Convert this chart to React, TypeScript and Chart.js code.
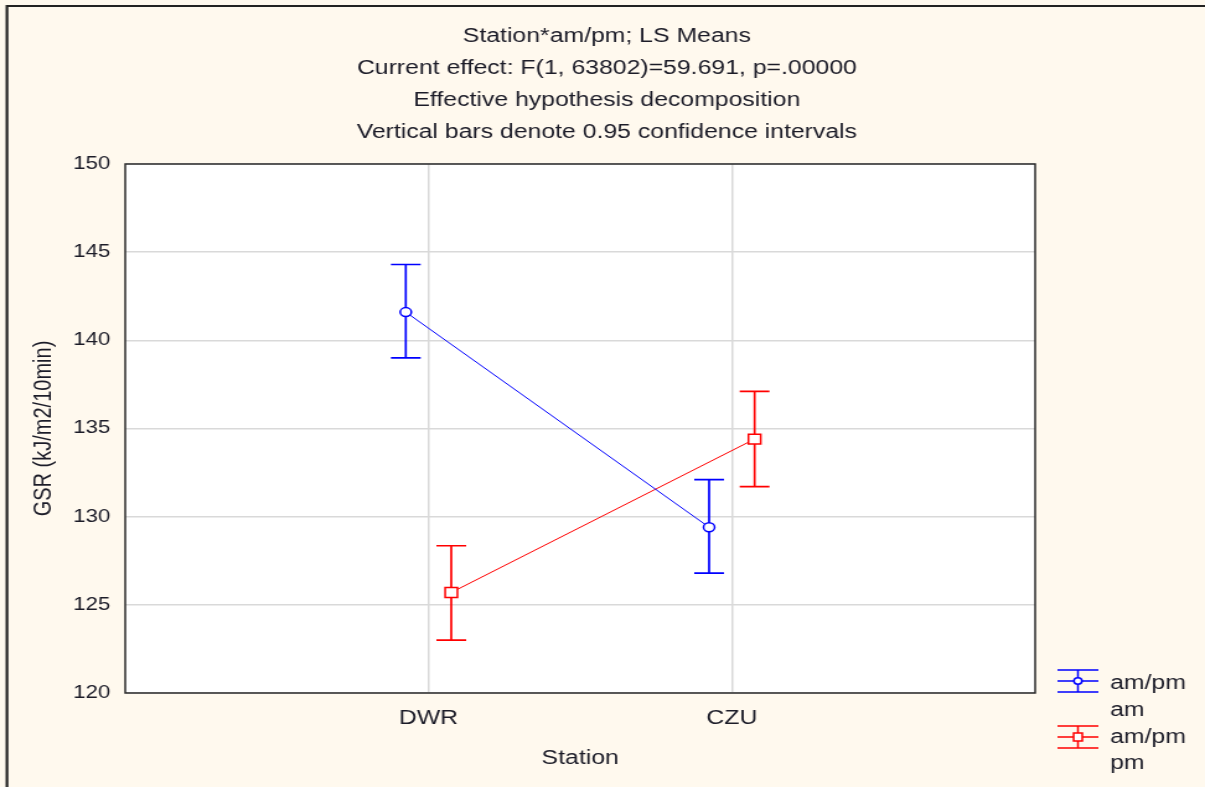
import { useEffect, useRef } from "react";
import { Chart, registerables } from "chart.js";

Chart.register(...registerables);

// ---- Data ----
const titleLines = [
  "Station*am/pm; LS Means",
  "Current effect: F(1, 63802)=59.691, p=.00000",
  "Effective hypothesis decomposition",
  "Vertical bars denote 0.95 confidence intervals",
];
const stations = ["DWR", "CZU"];
const yTicks = [120, 125, 130, 135, 140, 145, 150];

const amMeans = [141.6, 129.4];
const amLower = [139.0, 126.8];
const amUpper = [144.3, 132.1];

const pmMeans = [125.7, 134.4];
const pmLower = [123.0, 131.7];
const pmUpper = [128.35, 137.1];

const seriesNames = [["am/pm", "am"], ["am/pm", "pm"]];
const xTitle = "Station";
const yTitle = "GSR (kJ/m2/10min)";

// ---- Styles ----
// The original graphic is horizontally stretched; the canvas is drawn narrower and stretched by CSS.
const CSS_W = 1205;
const CSS_H = 787;
const CANVAS_W = 972;
const FONT = "'Liberation Sans', Arial, sans-serif";
const TEXT = "#1c1c28";
const BLUE = "#0000ff";
const RED = "#ff0000";
const GROUP_OFFSET = 0.075; // horizontal dodge of series within a station
const CAP = 12;

const App = () => {
  const ref = useRef<HTMLCanvasElement | null>(null);

  useEffect(() => {
    if (!ref.current) return;

    const amData = stations.map((_, i) => ({ x: i + 1 - GROUP_OFFSET, y: amMeans[i], lo: amLower[i], hi: amUpper[i] }));
    const pmData = stations.map((_, i) => ({ x: i + 1 + GROUP_OFFSET, y: pmMeans[i], lo: pmLower[i], hi: pmUpper[i] }));

    const bgPlugin = {
      id: "bg",
      beforeDraw(chart: any) {
        const { ctx, chartArea: a, width, height } = chart;
        ctx.save();
        ctx.fillStyle = "#fff9ee";
        ctx.fillRect(0, 0, width, height);
        ctx.fillStyle = "#ffffff";
        ctx.fillRect(a.left, a.top, a.right - a.left, a.bottom - a.top);
        ctx.restore();
      },
      afterDraw(chart: any) {
        const { ctx, chartArea: a, width, height } = chart;
        ctx.save();
        ctx.strokeStyle = "#2a2a2a";
        ctx.lineWidth = 1.5;
        ctx.strokeRect(a.left, a.top, a.right - a.left, a.bottom - a.top);
        ctx.lineWidth = 2.2;
        ctx.strokeStyle = "#222";
        ctx.beginPath();
        ctx.moveTo(5.6, height);
        ctx.lineTo(5.6, 6);
        ctx.lineTo(width, 6);
        ctx.stroke();

        // legend
        const x0 = a.right + 18;
        const x1 = a.right + 51;
        const xm = a.right + 34.5;
        const drawIcon = (cy: number, color: string, kind: string) => {
          ctx.strokeStyle = color;
          ctx.lineWidth = 1.5;
          ctx.beginPath();
          ctx.moveTo(x0, cy - 11); ctx.lineTo(x1, cy - 11);
          ctx.moveTo(x0, cy); ctx.lineTo(x1, cy);
          ctx.moveTo(x0, cy + 11); ctx.lineTo(x1, cy + 11);
          ctx.moveTo(xm, cy - 11); ctx.lineTo(xm, cy + 11);
          ctx.stroke();
          ctx.fillStyle = "#fff";
          ctx.beginPath();
          if (kind === "circle") ctx.arc(xm, cy, 3.2, 0, Math.PI * 2);
          else ctx.rect(xm - 3.5, cy - 4, 7, 8);
          ctx.fill();
          ctx.stroke();
        };
        drawIcon(681, BLUE, "circle");
        drawIcon(737, RED, "rect");
        ctx.fillStyle = TEXT;
        ctx.font = `20px ${FONT}`;
        ctx.textAlign = "left";
        ctx.textBaseline = "middle";
        const tx = a.right + 60.5;
        ctx.fillText(seriesNames[0][0], tx, 683);
        ctx.fillText(seriesNames[0][1], tx, 710);
        ctx.fillText(seriesNames[1][0], tx, 737);
        ctx.fillText(seriesNames[1][1], tx, 763);
        ctx.restore();
      },
    };

    const errPlugin = {
      id: "errbars",
      beforeDatasetsDraw(chart: any) {
        const { ctx } = chart;
        const xs = chart.scales.x;
        const ys = chart.scales.y;
        ctx.save();
        chart.data.datasets.forEach((ds: any) => {
          ctx.strokeStyle = ds.borderColor;
          ctx.lineWidth = 1.7;
          ds.data.forEach((p: any) => {
            const x = xs.getPixelForValue(p.x);
            const y1 = ys.getPixelForValue(p.hi);
            const y2 = ys.getPixelForValue(p.lo);
            ctx.beginPath();
            ctx.moveTo(x, y1); ctx.lineTo(x, y2);
            ctx.moveTo(x - CAP, y1); ctx.lineTo(x + CAP, y1);
            ctx.moveTo(x - CAP, y2); ctx.lineTo(x + CAP, y2);
            ctx.stroke();
          });
        });
        ctx.restore();
      },
    };

    const chart = new Chart(ref.current, {
      type: "line",
      data: {
        datasets: [
          {
            label: "am",
            data: amData as any,
            borderColor: BLUE,
            backgroundColor: "#fff",
            borderWidth: 1,
            pointStyle: "circle",
            pointRadius: 4.5,
            pointBorderWidth: 1.5,
            pointBackgroundColor: "#fff",
            pointBorderColor: BLUE,
          },
          {
            label: "pm",
            data: pmData as any,
            borderColor: RED,
            backgroundColor: "#fff",
            borderWidth: 1,
            pointStyle: "rect",
            pointRadius: 7,
            pointBorderWidth: 1.5,
            pointBackgroundColor: "#fff",
            pointBorderColor: RED,
          },
        ],
      },
      options: {
        animation: false,
        responsive: false,
        devicePixelRatio: 1,
        layout: { padding: { left: 7, right: 0, top: 0, bottom: 0 } },
        plugins: {
          legend: { display: false },
          tooltip: { enabled: false },
          title: {
            display: true,
            text: titleLines,
            color: TEXT,
            font: { family: FONT, size: 20, weight: "normal", lineHeight: 1.6 },
            padding: { top: 20, bottom: 16 },
          },
        },
        scales: {
          x: {
            type: "linear",
            min: 0,
            max: 3,
            afterBuildTicks: (s: any) => {
              s.ticks = stations.map((_, i) => ({ value: i + 1 }));
            },
            afterFit: (s: any) => {
              s.height = 94;
            },
            ticks: {
              callback: (v: any) => stations[Number(v) - 1] ?? "",
              color: TEXT,
              font: { family: FONT, size: 20, lineHeight: 1.2 },
              padding: 13,
              maxRotation: 0,
            },
            grid: { color: "#d9d9d9", lineWidth: 1.5, drawTicks: false },
            border: { display: false },
            title: {
              display: true,
              text: xTitle,
              color: TEXT,
              font: { family: FONT, size: 20, lineHeight: 1.2 },
              padding: { top: 0, bottom: 17 },
            },
          },
          y: {
            type: "linear",
            min: 120,
            max: 150,
            afterBuildTicks: (s: any) => {
              s.ticks = yTicks.map((v) => ({ value: v }));
            },
            afterFit: (s: any) => {
              s.width = 94;
            },
            ticks: {
              color: TEXT,
              font: { family: FONT, size: 18 },
              padding: 12,
            },
            grid: { color: "#d9d9d9", lineWidth: 1.5, drawTicks: false },
            border: { display: false },
            title: {
              display: true,
              text: yTitle,
              color: TEXT,
              font: { family: FONT, size: 20, lineHeight: 1.2 },
              padding: { top: 16, bottom: 0 },
            },
          },
          legendSpace: {
            type: "linear",
            position: "right",
            display: true,
            afterFit: (s: any) => {
              s.width = 137;
            },
            ticks: { display: false },
            grid: { display: false },
            border: { display: false },
          },
        },
      },
      plugins: [bgPlugin, errPlugin],
    });

    return () => chart.destroy();
  }, []);

  return (
    <div style={{ position: "fixed", left: 0, top: 0, width: CSS_W, height: CSS_H }}>
      <canvas
        ref={ref}
        width={CANVAS_W}
        height={CSS_H}
        style={{ display: "block", width: CSS_W, height: CSS_H }}
      />
    </div>
  );
};

export default App;
